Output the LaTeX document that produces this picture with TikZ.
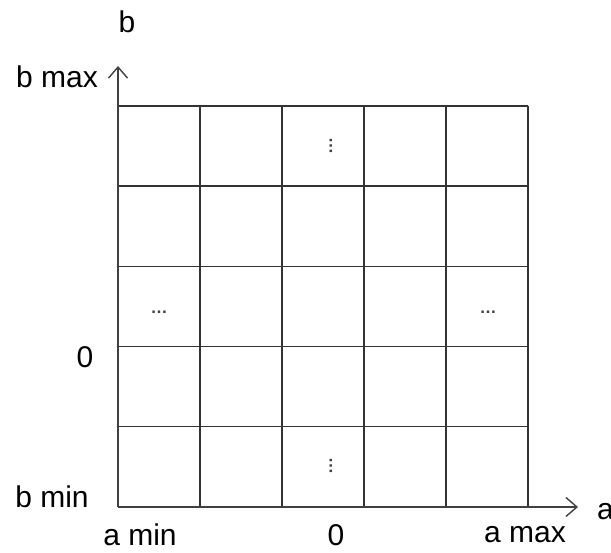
\documentclass[tikz,border=0pt]{standalone}
\usepackage{fontspec}
\setmainfont{Liberation Sans}
\usetikzlibrary{arrows.meta}

\begin{document}
\begin{tikzpicture}[
        x=1pt, y=-1pt,
        every node/.style={font=\fontsize{30}{34}\selectfont, text=black, inner sep=0pt},
        gridline/.style={draw=black!80, line width=1.4pt},
        axisline/.style={draw=black!75, line width=2pt, -{Straight Barb[length=11pt,width=19pt,line width=1.4pt]}},
        dotsnode/.style={font=\fontsize{17}{17}\bfseries, text=black!75}
    ]
        \useasboundingbox (0,0) rectangle (611,553);

        % Rejilla de 5x5 celdas
        \foreach \i in {0,...,5} {
            \draw[gridline] (118+82*\i,106) -- (118+82*\i,507);
            \draw[gridline] (118,106+80.2*\i) -- (528,106+80.2*\i);
        }

        % Ejes
        \coordinate (O) at (118,507);
        \coordinate (xend) at (578,507);
        \coordinate (yend) at (118,66);
        \draw[axisline] (O) -- (xend);
        \draw[axisline] (O) -- (yend);

        % Etiquetas del eje b
        \node (b) at (127,22) {b};
        \node (bmax) at (57,77) {b max};
        \node (bzero) at (85,357) {0};
        \node (bmin) at (52,497) {b min};

        % Etiquetas del eje a
        \node[anchor=west] (a) at (597,512) {a};
        \node (amin) at (140,535) {a min};
        \node (azero) at (336,535) {0};
        \node (amax) at (525,535) {a max};

        % Puntos suspensivos
        \node[dotsnode, rotate=-90] (vtop) at (331,146) {…};
        \node[dotsnode, rotate=-90] (vbot) at (331,466) {…};
        \node[dotsnode] (hleft) at (159,312) {…};
        \node[dotsnode] (hright) at (488,312) {…};
\end{tikzpicture}
\end{document}
